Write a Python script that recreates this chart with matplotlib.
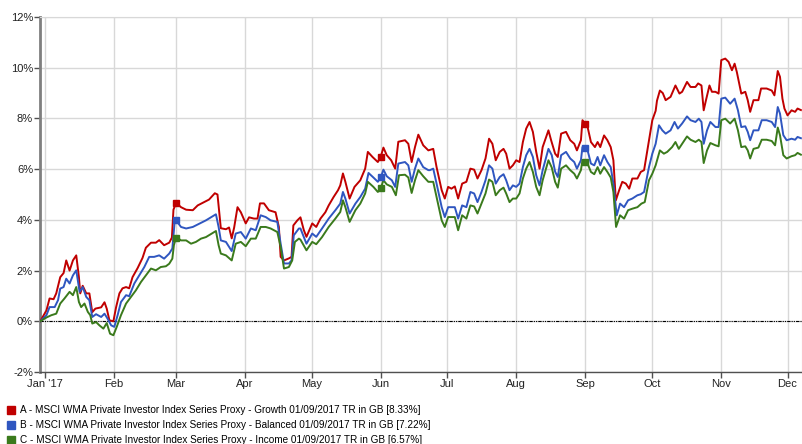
import matplotlib
matplotlib.use('Agg')
import matplotlib.pyplot as plt
import matplotlib.dates as mdates
from matplotlib.lines import Line2D
import numpy as np
from datetime import date

plt.rcParams['font.family'] = ['Liberation Sans', 'DejaVu Sans']
plt.rcParams['font.size'] = 8

# days counted from 1 Jan 2017 (base date is 30 Dec 2016)
growth_days = [-2, 0.8, 2.2, 4.0, 5.2, 7.0, 8.5, 9.7, 11.2, 12.7, 14.2, 15.4, 16.0, 17.1, 18.7, 20.1, 21.4, 22.8, 25.4, 26.9, 27.9, 29.1, 30.9,
               32.1, 33.6, 35.0, 36.6, 38.0, 39.5, 41.8, 44.0, 45.5, 47.8, 50.0, 51.5, 53.7, 56.0, 57.2, 57.9,
               59.1, 61.3, 63.6, 66.6, 68.8, 71.0, 73.9, 76.5, 77.7, 79.2, 81.5, 82.9, 84.1, 85.2, 86.7, 88.2,
               90.4, 91.9, 94.1, 95.7, 96.8, 98.6, 100.8, 103.8, 105.3, 106.1, 107.6, 109.8, 111.0, 111.8, 113.6, 115.0, 116.5, 117.7,
               120.3, 122.1, 124.0, 126.2, 127.7, 129.9, 131.9, 132.9, 134.1, 135.2, 137.1, 139.3, 141.9, 144.1, 145.3, 147.4, 149.8,
               151.3, 152.3, 153.8, 155.8, 157.6, 159.0, 162.0, 163.5, 165.0, 166.5, 168.0, 170.2, 172.5, 174.7, 176.2, 178.5, 179.9,
               181.4, 182.9, 184.4, 185.9, 187.7, 189.6, 191.4, 193.1, 194.6, 196.4, 198.2, 199.8, 201.3, 202.8, 204.6, 206.3, 207.5, 209.0, 210.5,
               212.0, 213.5, 215.0, 216.5, 218.0, 219.5, 221.0, 222.5, 223.9, 226.5, 227.7, 229.5, 230.7, 232.2, 234.4, 236.3, 238.1, 239.3, 241.1, 241.8,
               242.9, 244.1, 245.6, 247.4, 248.6, 249.8, 251.5, 253.0, 254.5, 255.7, 256.8, 258.3, 259.7, 261.3, 262.8, 264.2, 266.5, 268.0, 269.5,
               271.7, 273.2, 274.7, 275.3, 276.6, 277.9, 279.2, 281.4, 283.6, 285.4, 286.6, 288.8, 290.4, 292.6, 293.8, 295.3, 296.3, 297.3, 298.9, 300.0, 301.6, 303.0,
               304.2, 306.0, 307.5, 309.0, 310.2, 311.2, 312.3, 313.2, 315.0, 316.1, 317.2, 318.7, 320.9, 322.1, 324.6, 326.9, 328.1, 329.6, 330.6, 331.7, 332.6, 334.0,
               335.8, 337.4, 338.5, 340.0]
growth = [0, 0.43, 0.9, 0.87, 1.1, 1.74, 1.9, 2.4, 2.0, 2.4, 2.6, 1.74, 1.1, 1.4, 1.1, 1.1, 0.36, 0.5, 0.55, 0.75, 0.5, 0.04, 0.0,
          0.55, 1.1, 1.3, 1.35, 1.3, 1.74, 2.1, 2.5, 2.9, 3.1, 3.1, 3.2, 3.0, 3.1, 3.3, 4.4,
          4.67, 4.5, 4.4, 4.38, 4.57, 4.67, 4.8, 5.05, 5.0, 3.67, 3.63, 3.7, 3.27, 3.7, 4.5, 4.3,
          3.86, 4.1, 4.05, 4.05, 4.65, 4.65, 4.38, 4.3, 3.72, 2.54, 2.4, 2.48, 2.54, 3.78, 3.98, 4.1, 3.6, 3.33,
          3.86, 3.72, 4.05, 4.3, 4.57, 4.9, 5.17, 5.36, 5.83, 5.5, 4.84, 5.3, 5.56, 6.02, 6.68, 6.48, 6.28,
          6.55, 6.85, 6.55, 6.35, 6.02, 7.08, 7.14, 7.0, 6.28, 6.87, 7.36, 6.94, 6.74, 6.8, 6.08, 5.17, 4.84,
          5.3, 5.23, 5.32, 4.84, 5.43, 5.5, 6.02, 5.98, 5.63, 5.96, 6.42, 7.2, 7.0, 6.35, 6.68, 6.8, 6.61, 6.02, 6.15,
          6.35, 6.28, 7.07, 7.6, 7.86, 7.47, 6.68, 6.02, 6.87, 7.53, 7.14, 6.61, 6.48, 7.4, 7.47, 7.14, 7.0, 6.74, 7.14, 7.93,
          7.8, 7.66, 7.07, 6.87, 7.07, 6.87, 7.33, 7.14, 6.87, 6.35, 4.77, 5.17, 5.5, 5.43, 5.23, 5.63, 5.63, 5.89, 5.96,
          7.14, 7.93, 8.3, 8.7, 9.1, 9.0, 8.72, 8.85, 9.3, 8.98, 9.05, 9.44, 9.24, 9.24, 9.38, 9.3, 8.32, 8.71, 9.3, 9.05, 9.05, 8.98,
          10.3, 10.36, 10.23, 9.9, 10.16, 9.83, 9.37, 8.98, 9.05, 8.72, 8.26, 8.72, 8.72, 9.18, 9.18, 9.1, 8.91, 9.87, 9.64, 8.78, 8.39, 8.12,
          8.32, 8.26, 8.39, 8.33]

balanced_days = [-2, 0.8, 2.2, 4.5, 6.0, 7.0, 8.5, 9.7, 11.2, 12.7, 14.2, 15.4, 15.7, 17.1, 18.7, 20.1, 21.4, 23.1, 25.4, 26.9, 28.3, 29.9, 31.3,
                 32.8, 34.3, 36.6, 38.0, 40.3, 42.5, 44.8, 47.0, 49.2, 51.5, 53.7, 56.0, 57.4, 58.5,
                 59.1, 61.3, 63.6, 66.6, 69.5, 72.5, 77.0, 78.2, 79.2, 81.5, 84.1, 85.9, 88.2,
                 90.4, 92.7, 94.9, 97.1, 99.4, 101.6, 104.6, 106.1, 107.6, 109.8, 111.0, 112.0, 114.3, 115.0, 117.7,
                 120.3, 122.1, 124.7, 127.7, 130.7, 132.9, 134.1, 135.2, 137.1, 139.7, 141.9, 144.1, 145.6, 147.8, 149.8,
                 151.3, 152.3, 153.8, 156.1, 157.6, 159.0, 162.0, 163.5, 165.0, 166.5, 168.0, 170.2, 172.5, 173.2, 174.7, 176.2, 178.5, 179.9,
                 181.4, 184.4, 185.9, 187.7, 189.6, 191.4, 193.1, 194.6, 196.4, 198.2, 199.8, 201.3, 202.8, 204.6, 206.3, 207.5, 209.0, 210.5,
                 212.0, 213.5, 215.0, 216.5, 218.0, 219.5, 221.0, 222.5, 223.9, 226.5, 228.0, 229.5, 230.7, 232.2, 234.4, 236.3, 238.1, 239.3, 241.1, 241.8,
                 242.9, 244.1, 245.6, 247.1, 248.6, 249.8, 251.5, 253.0, 254.5, 255.7, 257.2, 258.7, 260.5, 262.3, 264.2, 266.5, 268.0, 269.5,
                 271.7, 273.2, 274.7, 276.2, 277.7, 279.2, 281.4, 283.2, 284.7, 286.6, 288.8, 290.4, 292.6, 294.1, 295.3, 296.3, 297.8, 299.3, 301.6, 303.0,
                 304.2, 306.0, 308.2, 310.2, 311.7, 313.2, 315.0, 316.1, 317.2, 318.7, 320.9, 322.4, 324.6, 326.9, 328.4, 329.6, 330.6, 332.1, 333.6,
                 335.8, 337.4, 338.5, 340.0]
balanced = [0, 0.24, 0.56, 0.56, 0.83, 1.29, 1.35, 1.68, 1.49, 1.81, 2.01, 1.35, 1.16, 1.35, 0.96, 0.83, 0.17, 0.28, 0.17, 0.3, 0.1, -0.16, -0.22,
            0.24, 0.76, 1.03, 0.99, 1.49, 1.81, 2.14, 2.54, 2.54, 2.6, 2.47, 2.67, 2.87, 3.98,
            3.98, 3.72, 3.66, 3.72, 3.85, 3.98, 4.22, 3.72, 3.19, 3.13, 2.77, 3.46, 3.52,
            3.26, 3.66, 3.59, 4.18, 4.11, 3.98, 3.92, 3.06, 2.28, 2.28, 2.4, 3.39, 3.66, 3.66, 3.06,
            3.46, 3.33, 3.66, 4.05, 4.38, 4.64, 5.1, 4.84, 4.25, 4.64, 4.9, 5.23, 5.85, 5.67, 5.5,
            5.72, 5.98, 5.72, 5.56, 5.3, 6.22, 6.28, 6.15, 5.5, 6.02, 6.42, 6.08, 5.96, 5.96, 6.02, 5.43, 4.5, 4.11,
            4.5, 4.5, 4.05, 4.57, 4.5, 5.1, 5.04, 4.7, 5.1, 5.56, 6.15, 6.02, 5.43, 5.69, 5.8, 5.56, 5.17, 5.36,
            5.3, 5.43, 6.08, 6.55, 6.8, 6.48, 5.76, 5.36, 5.96, 6.8, 6.55, 5.9, 5.69, 6.55, 6.68, 6.42, 6.28, 6.02, 6.35, 6.87,
            6.85, 6.74, 6.22, 6.15, 6.48, 6.15, 6.55, 6.28, 6.08, 5.43, 4.18, 4.64, 4.5, 4.77, 4.84, 4.97, 5.01, 5.1,
            6.08, 6.61, 7.0, 7.73, 7.53, 7.4, 7.53, 7.86, 7.6, 7.8, 8.08, 7.93, 7.86, 7.99, 7.86, 7.0, 7.53, 7.86, 7.66, 7.66,
            8.78, 8.82, 8.58, 8.78, 8.32, 7.66, 7.69, 7.47, 7.14, 7.53, 7.53, 7.93, 7.93, 7.86, 7.66, 8.45, 8.19, 7.34, 7.14,
            7.2, 7.16, 7.27, 7.22]

income_days = [-2, 0.8, 3.0, 5.2, 7.0, 8.9, 11.2, 12.7, 14.2, 15.4, 16.4, 17.9, 19.4, 20.5, 21.4, 23.1, 24.6, 26.4, 27.9, 29.4, 30.9,
               32.4, 34.3, 36.6, 38.8, 41.0, 43.3, 45.5, 47.8, 50.0, 52.2, 54.5, 56.0, 57.4, 58.1,
               59.1, 61.3, 63.6, 65.8, 68.0, 70.3, 72.5, 77.0, 78.2, 79.2, 81.5, 84.1, 85.9, 88.2,
               90.4, 92.7, 94.9, 97.1, 99.4, 101.6, 104.6, 106.1, 107.6, 109.8, 111.3, 112.5, 114.3, 115.0, 117.7,
               120.3, 122.1, 124.7, 127.7, 130.7, 132.9, 134.1, 135.2, 137.1, 139.7, 141.9, 144.1, 145.3, 147.8, 149.8,
               151.3, 152.3, 153.8, 156.1, 157.9, 159.3, 162.0, 163.5, 165.0, 166.5, 168.0, 170.2, 172.5, 173.2, 174.7, 176.2, 178.5, 179.9,
               181.4, 184.4, 185.9, 187.7, 189.6, 191.4, 193.1, 194.6, 196.4, 198.2, 199.8, 201.3, 202.8, 204.6, 206.3, 207.5, 209.0, 210.5,
               212.0, 213.5, 215.0, 216.5, 218.0, 219.5, 221.0, 222.5, 223.9, 226.5, 228.0, 229.5, 230.7, 232.2, 234.4, 236.3, 238.1, 239.3, 241.1, 241.8,
               242.9, 244.1, 245.6, 247.1, 248.6, 249.8, 251.5, 253.0, 254.5, 255.7, 256.9, 258.7, 260.5, 262.3, 264.2, 266.5, 268.3, 269.8,
               271.7, 273.2, 274.7, 276.6, 278.4, 279.9, 282.1, 283.6, 285.1, 286.6, 288.8, 290.4, 292.6, 294.1, 295.3, 296.3, 297.8, 299.3, 301.6, 303.0,
               304.2, 306.0, 308.2, 310.2, 311.7, 313.2, 315.0, 316.1, 317.2, 318.7, 320.9, 322.4, 324.6, 326.9, 328.4, 329.6, 330.6, 332.1, 333.6,
               335.8, 337.4, 338.5, 340.0]
income = [0, 0.15, 0.24, 0.3, 0.7, 0.9, 1.16, 1.03, 1.35, 0.76, 0.56, 0.7, 0.37, 0.24, -0.09, -0.03, -0.16, -0.29, -0.07, -0.49, -0.55,
          -0.22, 0.24, 0.7, 0.96, 1.22, 1.55, 1.81, 2.08, 2.01, 2.14, 2.17, 2.27, 2.47, 3.0,
          3.32, 3.19, 3.19, 3.06, 3.13, 3.26, 3.32, 3.56, 3.0, 2.67, 2.6, 2.4, 3.06, 3.13,
          2.96, 3.26, 3.26, 3.72, 3.72, 3.66, 3.52, 2.93, 2.08, 2.14, 2.4, 3.13, 3.26, 3.22, 2.8,
          3.13, 3.04, 3.32, 3.72, 4.05, 4.31, 4.77, 4.5, 3.92, 4.38, 4.64, 5.04, 5.5, 5.3, 5.1,
          5.3, 5.56, 5.4, 5.3, 4.97, 5.76, 5.78, 5.67, 5.06, 5.56, 5.96, 5.72, 5.5, 5.5, 5.5, 4.9, 3.98, 3.72,
          4.11, 4.11, 3.59, 4.18, 4.05, 4.57, 4.53, 4.25, 4.64, 5.04, 5.59, 5.5, 4.97, 5.17, 5.27, 5.04, 4.7, 4.84,
          4.84, 5.04, 5.63, 6.02, 6.28, 5.89, 5.3, 4.97, 5.56, 6.35, 6.06, 5.5, 5.27, 6.02, 6.15, 5.96, 5.82, 5.63, 5.96, 6.35,
          6.28, 6.22, 5.89, 5.8, 6.08, 5.82, 6.08, 5.89, 5.67, 5.1, 3.72, 4.18, 4.05, 4.38, 4.44, 4.5, 4.64, 4.7,
          5.56, 5.82, 6.15, 6.74, 6.61, 6.68, 6.87, 7.07, 6.8, 7.0, 7.29, 7.16, 7.07, 7.16, 7.07, 6.24, 6.74, 7.03, 6.94, 6.9,
          7.93, 7.99, 7.8, 7.99, 7.53, 6.87, 6.9, 6.74, 6.42, 6.8, 6.85, 7.16, 7.16, 7.11, 6.94, 7.64, 7.34, 6.55, 6.42,
          6.51, 6.55, 6.64, 6.57]

series_names = ['A - MSCI WMA Private Investor Index Series Proxy - Growth 01/09/2017 TR in GB [8.33%]',
                'B - MSCI WMA Private Investor Index Series Proxy - Balanced 01/09/2017 TR in GB [7.22%]',
                'C - MSCI WMA Private Investor Index Series Proxy - Income 01/09/2017 TR in GB [6.57%]']
colors = ['#c00000', '#2f56c0', '#3a7a1c']
marker_dates = [date(2017, 3, 1), date(2017, 6, 1), date(2017, 9, 1)]
month_labels = ["Jan '17", 'Feb', 'Mar', 'Apr', 'May', 'Jun', 'Jul', 'Aug', 'Sep', 'Oct', 'Nov', 'Dec']
y_ticks = [-2, 0, 2, 4, 6, 8, 10, 12]

base = mdates.date2num(date(2017, 1, 1))

fig = plt.figure(figsize=(8.03, 4.44), dpi=100)
ax = fig.add_axes([40 / 803, 1 - 372 / 444, 762 / 803, 355 / 444])

all_days = [growth_days, balanced_days, income_days]
all_vals = [growth, balanced, income]
for d, v, c in zip(all_days, all_vals, colors):
    x = base + np.array(d)
    ax.plot(x, v, color=c, lw=1.4, zorder=3)
    mx = mdates.date2num(marker_dates)
    ax.plot(mx, np.interp(mx, x, v), 's', color=c, ms=5, zorder=4)

ax.axhline(0, color='black', lw=0.8, ls=(0, (3, 1, 1, 1, 1, 1)), zorder=2)

month_ticks = [mdates.date2num(date(2017, m, 1)) for m in range(1, 13)]
ax.set_xticks(month_ticks)
ax.set_xticklabels(month_labels)
ax.set_xlim(base - 2.1, base + 340.5)
ax.set_yticks(y_ticks)
ax.set_yticklabels([f'{t}%' for t in y_ticks])
ax.set_ylim(-2, 12)

ax.grid(True, color='#d8d8d8', lw=1.0, zorder=0)
ax.set_axisbelow(True)
for s in ['top', 'right']:
    ax.spines[s].set_color('#d8d8d8')
ax.spines['left'].set_color('#7f7f7f')
ax.spines['left'].set_linewidth(2)
ax.spines['bottom'].set_color('#505050')
ax.spines['bottom'].set_linewidth(1)
ax.tick_params(axis='both', length=4, width=1, color='#505050', labelcolor='#222222', labelsize=8, pad=1)

handles = [Line2D([], [], marker='s', ls='none', color=c, ms=6) for c in colors]
fig.legend(handles, series_names, loc='upper left', bbox_to_anchor=(7 / 803, 1 - 405 / 444),
           frameon=False, fontsize=7.2, handlelength=0.8, handletextpad=0.45,
           labelspacing=0.5, borderpad=0, borderaxespad=0)

fig.savefig('out.png', dpi=100)
